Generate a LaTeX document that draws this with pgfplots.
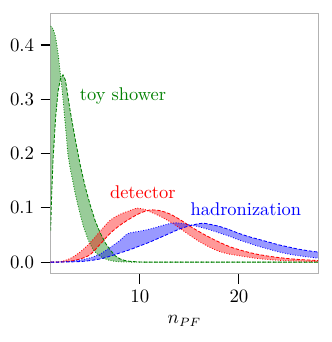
\documentclass[border=0pt]{standalone}
\usepackage{pgfplots}
\pgfplotsset{compat=1.18}
\usepgfplotslibrary{fillbetween}
\definecolor{mgreen}{rgb}{0,0.5,0}
\definecolor{mred}{rgb}{1,0,0}
\definecolor{mblue}{rgb}{0,0,1}
\begin{document}
\fontsize{10.7}{12.8}\selectfont
\begin{tikzpicture}
\begin{axis}[
  scale only axis,
  width=155.5pt, height=151.4pt,
  xmin=1, xmax=28, ymin=-0.0215, ymax=0.4585,
  xtick={10,20}, ytick={0,0.1,0.2,0.3,0.4},
  yticklabel style={/pgf/number format/.cd,fixed,fixed zerofill,precision=1},
  xtick pos=bottom, ytick pos=left,
  tick align=outside, major tick length=5.8pt,
  tick style={black, line width=0.6pt},
  axis line style={black!30},
  xlabel={$n_{PF}$},
  clip=true,
]
% green
\addplot[name path=gA, mgreen, line width=0.5pt, densely dotted] coordinates {
(1,0.435)(1.25,0.43)(1.5,0.415)(1.75,0.385)(2,0.345)(2.25,0.30)(2.5,0.25)(2.75,0.198)(3,0.17)(3.25,0.148)(3.5,0.125)(3.75,0.105)(4,0.087)(4.3,0.066)(4.75,0.043)(5,0.033)(5.3,0.023)(5.75,0.014)(6.3,0.0074)(7,0.003)(7.5,0.0015)(8,0.0007)(9,0.0002)(10,0)(28,0)};
\addplot[name path=gB, mgreen, line width=0.5pt, dash pattern=on 2pt off 1pt] coordinates {
(1,0.058)(1.1,0.12)(1.25,0.19)(1.5,0.265)(1.75,0.315)(2,0.338)(2.25,0.345)(2.5,0.335)(2.75,0.305)(3,0.276)(3.5,0.225)(4,0.178)(4.5,0.138)(5,0.105)(5.5,0.076)(6,0.054)(6.5,0.036)(7,0.0227)(7.5,0.012)(8,0.006)(8.5,0.003)(9,0.0015)(10,0.0003)(11,0)(28,0)};
\addplot[mgreen, fill opacity=0.4, draw=none] fill between[of=gA and gB];
% red
\addplot[name path=rA, mred, smooth, line width=0.5pt, densely dotted] coordinates {
(1,0)(2,0.001)(3,0.007)(4,0.019)(5,0.036)(6,0.057)(7,0.077)(8,0.088)(9,0.095)(9.7,0.0995)(10.5,0.097)(11,0.093)(12,0.085)(13,0.075)(14,0.063)(15,0.050)(16,0.038)(17,0.028)(18,0.020)(19,0.015)(20,0.012)(21,0.009)(22,0.0065)(23,0.0048)(24,0.0035)(25,0.0026)(26,0.002)(27,0.0015)(28,0.001)};
\addplot[name path=rB, mred, smooth, line width=0.5pt, dash pattern=on 2pt off 1pt] coordinates {
(1,0)(2,0.0003)(3,0.002)(4,0.006)(5,0.014)(6,0.033)(7,0.053)(8,0.068)(9,0.080)(10,0.090)(11,0.096)(12,0.095)(13,0.089)(14,0.079)(15,0.067)(16,0.056)(17,0.046)(18,0.037)(19,0.029)(20,0.023)(21,0.018)(22,0.014)(23,0.011)(24,0.0085)(25,0.0065)(26,0.005)(27,0.004)(28,0.003)};
\addplot[mred, fill opacity=0.4, draw=none] fill between[of=rA and rB];
% blue
\addplot[name path=bA, mblue, smooth, line width=0.5pt, densely dotted] coordinates {
(1,0)(2,0.0005)(3,0.0015)(4,0.004)(5,0.008)(6,0.015)(7,0.027)(8,0.040)(8.5,0.049)(9,0.054)(10,0.057)(11,0.061)(12,0.066)(13,0.071)(13.6,0.0725)(14,0.072)(15,0.069)(16,0.065)(17,0.060)(18,0.054)(19,0.048)(20,0.041)(21,0.035)(22,0.029)(23,0.024)(24,0.019)(25,0.015)(26,0.012)(27,0.0095)(28,0.0074)};
\addplot[name path=bB, mblue, smooth, line width=0.5pt, dash pattern=on 2pt off 1pt] coordinates {
(1,0)(2,0.0002)(3,0.0005)(4,0.0012)(5,0.003)(6,0.006)(7,0.011)(8,0.017)(9,0.023)(10,0.030)(11,0.037)(12,0.045)(13,0.053)(14,0.061)(15,0.067)(16,0.071)(16.5,0.0715)(17,0.070)(18,0.066)(19,0.060)(20,0.053)(21,0.047)(22,0.042)(23,0.037)(24,0.032)(25,0.028)(26,0.024)(27,0.021)(28,0.0185)};
\addplot[mblue, fill opacity=0.4, draw=none] fill between[of=bA and bB];
\node[mgreen] at (axis cs:8.3,0.306) {toy shower};
\node[mred] at (axis cs:10.3,0.128) {detector};
\node[mblue] at (axis cs:20.7,0.098) {hadronization};
\end{axis}
\path (current axis.south west) ++(-29.4pt,-39.6pt);
\path (current axis.north east) ++(7.9pt,7.7pt);
\end{tikzpicture}
\end{document}
